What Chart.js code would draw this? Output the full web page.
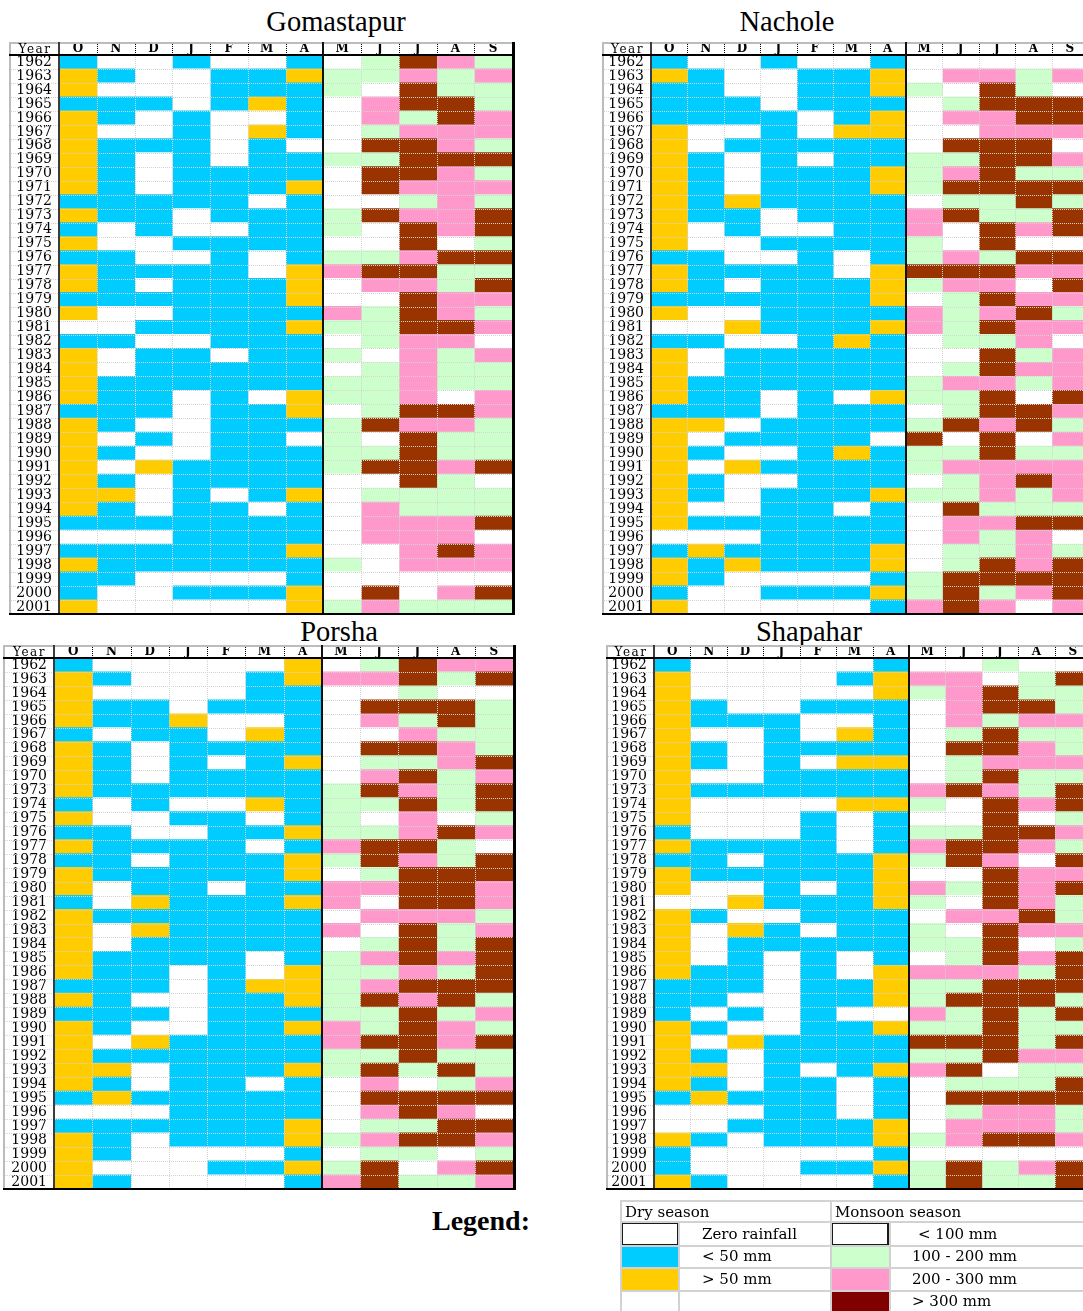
<!DOCTYPE html>
<html>
<head>
<meta charset="utf-8">
<script src="https://cdn.jsdelivr.net/npm/chart.js@4.4.1/dist/chart.umd.min.js"></script>
<style>
  html, body { margin: 0; padding: 0; background: #fff; overflow: hidden; width: 1083px; height: 1311px; }
  .title { position: absolute; width: 300px; text-align: center; font-family: 'Liberation Serif', 'Times New Roman', serif;
           font-size: 28.5px; line-height: 29px; color: #000; white-space: nowrap; }
  canvas { position: absolute; }
  #legendWord { position: absolute; left: 432px; top: 1206px; font: bold 28px 'Liberation Serif', serif; line-height: 30px; color: #000; }
  .lg { position: absolute; box-sizing: border-box; }
  .hl { position: absolute; height: 2px; background: #d2d2d2; }
  .vl { position: absolute; width: 2px; background: #d2d2d2; }
  .lt { position: absolute; font-family: 'DejaVu Serif', serif; font-size: 15px; line-height: 22px; color: #000; white-space: nowrap; }
  .zbox { position: absolute; box-sizing: border-box; border: 2px solid #1a1a1a; background: #fff; }
</style>
</head>
<body>

<div class="title" style="left:186px; top:7px;">Gomastapur</div>
<div class="title" style="left:637px; top:7px;">Nachole</div>
<div class="title" style="left:189px; top:617px;">Porsha</div>
<div class="title" style="left:659px; top:617px;">Shapahar</div>

<canvas id="gomastapur"></canvas>
<canvas id="nachole"></canvas>
<canvas id="porsha"></canvas>
<canvas id="shapahar"></canvas>

<div id="legendWord">Legend:</div>
<div id="legendBox">
  <!-- swatches -->
  <div class="zbox" style="left:621px; top:1222px; width:58px; height:24px;"></div>
  <div class="lg" style="left:621px; top:1246px; width:57px; height:21px; background:#00CCFF;"></div>
  <div class="lg" style="left:621px; top:1268px; width:57px; height:22px; background:#FFCC00;"></div>
  <div class="zbox" style="left:831px; top:1222px; width:58px; height:24px;"></div>
  <div class="lg" style="left:832px; top:1246px; width:57px; height:21px; background:#CCFFCC;"></div>
  <div class="lg" style="left:832px; top:1268px; width:57px; height:22px; background:#FF99CC;"></div>
  <div class="lg" style="left:832px; top:1291px; width:57px; height:20px; background:#800000;"></div>
  <!-- rules -->
  <div class="hl" style="left:620px; top:1200px; width:470px;"></div>
  <div class="hl" style="left:620px; top:1221px; width:470px;"></div>
  <div class="hl" style="left:620px; top:1245px; width:470px;"></div>
  <div class="hl" style="left:620px; top:1267px; width:470px;"></div>
  <div class="hl" style="left:620px; top:1290px; width:470px;"></div>
  <div class="vl" style="left:620px; top:1200px; height:111px;"></div>
  <div class="vl" style="left:678px; top:1221px; height:90px;"></div>
  <div class="vl" style="left:830px; top:1200px; height:111px;"></div>
  <div class="vl" style="left:889px; top:1221px; height:90px;"></div>
  <!-- texts -->
  <div class="lt" style="left:625px; top:1201px;">Dry season</div>
  <div class="lt" style="left:835px; top:1201px;">Monsoon season</div>
  <div class="lt" style="left:702px; top:1223px;">Zero rainfall</div>
  <div class="lt" style="left:702px; top:1245px;">&lt; 50 mm</div>
  <div class="lt" style="left:702px; top:1268px;">&gt; 50 mm</div>
  <div class="lt" style="left:918px; top:1223px;">&lt; 100 mm</div>
  <div class="lt" style="left:912px; top:1245px;">100 - 200 mm</div>
  <div class="lt" style="left:912px; top:1268px;">200 - 300 mm</div>
  <div class="lt" style="left:912px; top:1290px;">&gt; 300 mm</div>
</div>

<script>
// Column headers: dry season Oct-Apr, then monsoon May-Sep
const MONTHS = ['O', 'N', 'D', 'J', 'F', 'M', 'A', 'M', 'J', 'J', 'A', 'S'];

const YEARS_ALL = ['1962','1963','1964','1965','1966','1967','1968','1969','1970','1971',
                   '1972','1973','1974','1975','1976','1977','1978','1979','1980','1981',
                   '1982','1983','1984','1985','1986','1987','1988','1989','1990','1991',
                   '1992','1993','1994','1995','1996','1997','1998','1999','2000','2001'];
const YEARS_GAP = ['1962','1963','1964','1965','1966','1967','1968','1969','1970',
                   '1973','1974','1975','1976','1977','1978','1979','1980','1981',
                   '1982','1983','1984','1985','1986','1987','1988','1989','1990','1991',
                   '1992','1993','1994','1995','1996','1997','1998','1999','2000','2001'];

// Dry season class per month (O..A): 0 = zero rainfall, 1 = < 50 mm, 2 = > 50 mm
// Monsoon class per month (M..S): 0 = < 100 mm, 1 = 100-200, 2 = 200-300, 3 = > 300 mm
const gomastapurDry = ['1001001','2100112','2000111','1110121','2101001','2001021','2111010','2101011','2101111','2101112',
  '1111101','2110111','1010011','2001111','1100101','2111102','2101112','1111112','2001111','0011112',
  '1100111','2011011','2011111','2111111','2110102','1110112','2100111','2010110','2100111','2021111',
  '2101111','2201012','2101101','1111111','0001111','1111112','2111111','1100001','1001112','2000002'];
const gomastapurWet = ['01321','11212','10311','02331','02132','01222','03321','11333','03321','03222',
  '00121','13223','10323','00301','11233','23311','02213','00322','21321','11332',
  '01220','10212','01211','11211','11202','01332','13221','10311','11311','13323',
  '00310','01111','02111','02223','02220','00232','10222','00000','03023','12111'];

const nacholeDry = ['1001001','2100112','1100112','1110111','1111012','2001022','2011111','2101011','2101112','2101112',
  '2121111','2110111','2010011','2001111','1100101','2111102','2101112','1111112','2001111','0021112',
  '1100121','2011111','2011111','2111111','2110102','1110111','2201111','2011110','2100121','2021111',
  '2100111','2101112','2001101','2111111','0001111','1211112','2121112','2100001','1001112','2000001'];
const nacholeWet = ['00000','02212','10310','01333','02233','00222','03330','11332','12311','13333',
  '01131','23113','20323','10300','12133','33322','12203','01322','21231','21322',
  '01120','00312','01322','12212','11303','01332','13231','30302','11311','12222',
  '01232','11212','03111','02233','02120','01121','01323','13333','13123','23202'];

const porshaDry = ['1000002','2100012','2000011','2110111','2112001','1011021','2101111','2101012','2101111',
  '2111111','1010021','2001101','1100112','2111101','1101112','2111112','2011011','1021112',
  '2111111','2021111','2011111','2111101','2110102','1110122','2100112','1110111','2100112','2021111',
  '2111111','2201112','2101101','1211111','0001111','1111112','2101112','2100001','2000112','2100001'];
const porshaWet = ['01322','22313','00100','03331','02131','00211','03321','01123','02312',
  '13213','11313','10201','11232','23310','13213','01333','22332','20332',
  '02221','20312','01313','12323','11213','12333','13231','11312','21321','23323',
  '11311','13131','02012','03333','02320','01133','12332','01101','13023','23112'];

const shapaharDry = ['1000001','2000012','2000002','2100111','2111001','2001021','2101111','2101022','2001111',
  '2111111','2000022','2000101','1000101','2111101','1101112','2111112','2001012','0021112',
  '2100111','2021011','2011111','2010101','2110102','1110112','1100112','1010100','2100112','2021111',
  '2101111','2201012','2101101','1211101','0001101','0011112','2101112','1000001','1000112','2100001'];
const shapaharWet = ['00100','22013','12311','02331','02122','01311','03321','01222','01311',
  '23213','10323','00301','11332','23321','13203','00322','21323','10321',
  '02231','10322','11301','01323','22213','11333','13331','21313','11311','33313',
  '11322','23011','01113','03333','01221','02221','12332','00000','13123','13113'];

const DRY_COLORS = ['#FFFFFF', '#00CCFF', '#FFCC00'];
const WET_COLORS = ['#FFFFFF', '#CCFFCC', '#FF99CC', '#993300'];
const DRY_MONTHS = 7;

const PAD = { l: 2, t: 2, r: 4, b: 16 };
const ROW_H = 13.97;

// Table rules: dotted cell grid, header separators and the heavy frame lines
const tableLines = {
  id: 'tableLines',
  afterDatasetsDraw(chart, args, opts) {
    const { ctx, chartArea: a, scales } = chart;
    const xs = scales.x, ys = scales.y;
    const n = chart.data.labels.length;
    const L = a.left - opts.yearW, T = a.top - opts.headerH;
    const rowEdge = k => k === 0 ? a.top : (k === n ? a.bottom : (ys.getPixelForValue(k - 1) + ys.getPixelForValue(k)) / 2);
    const colEdge = m => xs.getPixelForValue(m);
    ctx.save();
    ctx.lineWidth = 1;
    ctx.setLineDash([1, 1]);
    ctx.strokeStyle = '#d4d4d4';
    ctx.beginPath();
    for (let k = 1; k < n; k++) {
      const yy = Math.round(rowEdge(k)) + 0.5;
      ctx.moveTo(L + 2, yy); ctx.lineTo(a.right, yy);
    }
    for (let m = 1; m < 12; m++) {
      if (m === DRY_MONTHS) continue;
      const xx = Math.round(colEdge(m)) + 0.5;
      ctx.moveTo(xx, a.top); ctx.lineTo(xx, a.bottom);
    }
    ctx.stroke();
    ctx.strokeStyle = '#000';
    ctx.beginPath();
    for (let m = 1; m < 12; m++) {
      if (m === DRY_MONTHS) continue;
      const xx = Math.round(colEdge(m)) + 0.5;
      ctx.moveTo(xx, T + 2); ctx.lineTo(xx, a.top);
    }
    ctx.stroke();
    ctx.setLineDash([]);

    const line = (x1, y1, x2, y2, w, c) => {
      ctx.lineWidth = w; ctx.strokeStyle = c;
      ctx.beginPath(); ctx.moveTo(x1, y1); ctx.lineTo(x2, y2); ctx.stroke();
    };
    line(L, T + 1, a.right, T + 1, 2, '#bcbcbc');
    line(L + 1, T, L + 1, a.bottom, 2, '#bcbcbc');
    line(a.left, T, a.left, a.bottom, 2, '#3c3c3c');
    line(L, a.top, a.right, a.top, 2, '#000');
    const mid = Math.round(colEdge(DRY_MONTHS));
    line(mid, T, mid, a.bottom, 2, '#111');
    line(L, a.bottom, a.right + 3, a.bottom, 2, '#000');
    line(a.right + 1.5, T, a.right + 1.5, a.bottom + 1, 3, '#000');

    ctx.fillStyle = '#000';
    ctx.font = '12px "DejaVu Serif"';
    ctx.letterSpacing = '1.5px';
    ctx.textAlign = 'center';
    ctx.textBaseline = 'middle';
    ctx.fillText('Year', L + opts.yearW / 2 + 1, T + opts.headerH / 2 + 1);
    ctx.restore();
  }
};

function drawStation(id, years, dry, wet, g) {
  const canvas = document.getElementById(id);
  const cellsH = Math.round(years.length * ROW_H);
  const W = Math.round(PAD.l + g.yearW + 12 * g.cellW + PAD.r);
  const H = PAD.t + g.headerH + cellsH + PAD.b;
  canvas.width = W; canvas.height = H;
  canvas.style.width = W + 'px'; canvas.style.height = H + 'px';
  canvas.style.left = (g.left - PAD.l) + 'px';
  canvas.style.top = (g.top - PAD.t) + 'px';

  // one stacked bar segment per month; each segment spans one month slot and takes its colour from the class
  const datasets = MONTHS.map((mLabel, m) => ({
    label: mLabel,
    data: years.map(() => 1),
    backgroundColor: years.map((_, r) => m < DRY_MONTHS ? DRY_COLORS[+dry[r][m]] : WET_COLORS[+wet[r][m - DRY_MONTHS]]),
    borderWidth: 0,
    borderSkipped: false,
    inflateAmount: 0.5,
    barPercentage: 1,
    categoryPercentage: 1
  }));

  new Chart(canvas, {
    type: 'bar',
    data: { labels: years, datasets },
    plugins: [tableLines],
    options: {
      responsive: false,
      animation: false,
      devicePixelRatio: 1,
      indexAxis: 'y',
      layout: { padding: { left: PAD.l, top: PAD.t, right: PAD.r, bottom: PAD.b } },
      plugins: {
        legend: { display: false },
        tooltip: { enabled: false },
        title: { display: false },
        tableLines: { yearW: g.yearW, headerH: g.headerH }
      },
      scales: {
        x: { type: 'linear', min: 0, max: 12, stacked: true, display: false },
        xm: {
          type: 'category', labels: MONTHS, position: 'top', offset: true,
          grid: { display: false, drawTicks: false }, border: { display: false },
          ticks: { autoSkip: false, maxRotation: 0, padding: 0, color: '#000',
                   font: { family: 'DejaVu Serif', size: 12, weight: 'bold', lineHeight: 1.1 } },
          afterFit(s) { s.height = g.headerH; }
        },
        y: {
          type: 'category', stacked: true, offset: true,
          grid: { display: false, drawTicks: false }, border: { display: false },
          ticks: { autoSkip: false, crossAlign: 'center', padding: 7, color: '#000',
                   font: { family: 'DejaVu Serif', size: 14, lineHeight: 1 } },
          afterFit(s) { s.width = g.yearW; }
        }
      }
    }
  });
}

drawStation('gomastapur', YEARS_ALL, gomastapurDry, gomastapurWet, { left: 9, top: 42, yearW: 50, cellW: 37.75, headerH: 13 });
drawStation('nachole', YEARS_ALL, nacholeDry, nacholeWet, { left: 602, top: 42, yearW: 49, cellW: 36.4, headerH: 13 });
drawStation('porsha', YEARS_GAP, porshaDry, porshaWet, { left: 3, top: 645, yearW: 51, cellW: 38.25, headerH: 13 });
drawStation('shapahar', YEARS_GAP, shapaharDry, shapaharWet, { left: 606, top: 645, yearW: 48, cellW: 36.4, headerH: 13 });
</script>
</body>
</html>
